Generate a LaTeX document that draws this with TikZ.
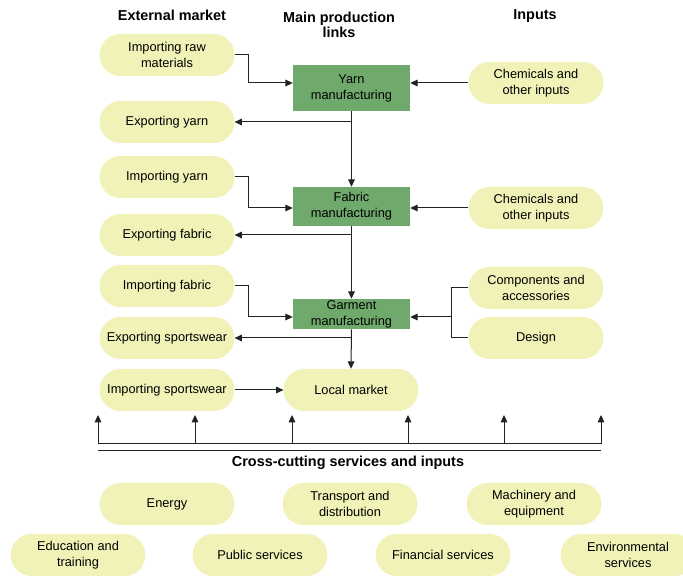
\documentclass[tikz,border=0pt]{standalone}
\usepackage{fontspec}
\setmainfont{Liberation Sans}
\usetikzlibrary{arrows.meta}
\definecolor{pillc}{HTML}{F0F2B8}
\definecolor{boxg}{HTML}{70A96C}
\definecolor{ln}{HTML}{222222}
\begin{document}
\begin{tikzpicture}[x=0.75pt,y=-0.75pt,
  pill/.style={fill=pillc, rounded corners=15.5pt, minimum width=101pt, minimum height=31.5pt, inner sep=0pt, align=center, font=\fontsize{9.6}{12}\selectfont},
  gbox/.style={fill=boxg, minimum width=87.75pt, inner sep=0pt, align=center, font=\fontsize{9.6}{12}\selectfont},
  hdr/.style={font=\bfseries\fontsize{10.8}{11.5}\selectfont, align=center},
  conn/.style={draw=ln, line width=0.75pt},
  arr/.style={conn, -{Triangle[length=5.5pt,width=5pt]}}]
\path[use as bounding box] (0,0) rectangle (683,577);

% headers
\node[hdr] (h1) at (172,15) {External market};
\node[hdr] (h2) at (339,25) {Main production\\links};
\node[hdr] (h3) at (535,16) {Inputs};

% pills
\node[pill] (irm) at (167,55) {Importing raw\\materials};
\node[pill] (ey) at (167,122) {Exporting yarn};
\node[pill] (ch1) at (536,83) {Chemicals and\\other inputs};
\node[pill] (iy) at (167,177) {Importing yarn};
\node[pill] (ef) at (167,235) {Exporting fabric};
\node[pill] (ch2) at (536,208) {Chemicals and\\other inputs};
\node[pill] (if) at (167,286) {Importing fabric};
\node[pill] (es) at (167,338) {Exporting sportswear};
\node[pill] (ca) at (536,288) {Components and\\accessories};
\node[pill] (de) at (536,338) {Design};
\node[pill] (is) at (167,390) {Importing sportswear};
\node[pill] (lm) at (351,390) {Local market};

% green boxes
\node[gbox, minimum height=34.5pt] (yarn) at (351.5,88) {Yarn\\manufacturing};
\node[gbox, minimum height=29.25pt] (fab) at (351.5,206.5) {Fabric\\manufacturing};
\node[gbox, minimum height=22.5pt] (gar) at (351.5,314) {Garment\\manufacturing};

% connectors
\draw[arr] (irm.east) -- ++(14,0) |- (yarn.west |- ch1.west);
\draw[arr] (ch1.west) -- (yarn.east |- ch1.west);
\draw[arr] (yarn.south) -- (fab.north);
\draw[arr] (yarn.south |- ey.east) -- (ey.east);

\draw[arr] (iy.east) -- ++(14,0) |- (fab.west |- ch2.west);
\draw[arr] (ch2.west) -- (fab.east |- ch2.west);
\draw[arr] (fab.south) -- (gar.north);
\draw[arr] (fab.south |- ef.east) -- (ef.east);

\draw[arr] (if.east) -- ++(14,0) |- ([yshift=-2.25pt]gar.west);
\draw[conn] (ca.west) -- ++(-17,0) coordinate (bt) |- (de.west);
\coordinate (bm) at (452,317);
\draw[arr] (bm) -- ([yshift=-2.25pt]gar.east);
\draw[arr] (gar.south |- es.east) -- (es.east);
\draw[arr] (gar.south) -- (lm.north);
\draw[arr] (is.east) -- (lm.west);

% cross-cutting bracket
\coordinate (b1) at (98,444);
\coordinate (b2) at (195,444);
\coordinate (b3) at (292,444);
\coordinate (b4) at (408,444);
\coordinate (b5) at (504,444);
\coordinate (b6) at (601,444);
\draw[conn] (b1) -- (b6);
\foreach \b in {b1,b2,b3,b4,b5,b6} \draw[arr] (\b) -- ++(0,-29);
\coordinate (l1) at (98,451);
\coordinate (l2) at (601,451);
\draw[conn] (l1) -- (l2);
\node[hdr] (cc) at (348,463) {Cross-cutting services and inputs};

% bottom pills
\node[pill] (en) at (167,504) {Energy};
\node[pill] (tr) at (350,504) {Transport and\\distribution};
\node[pill] (ma) at (534,504) {Machinery and\\equipment};
\node[pill] (ed) at (78,555) {Education and\\training};
\node[pill] (ps) at (260,555) {Public services};
\node[pill] (fs) at (443,555) {Financial services};
\node[pill] (env) at (628,555) {Environmental\\services};
\end{tikzpicture}
\end{document}
